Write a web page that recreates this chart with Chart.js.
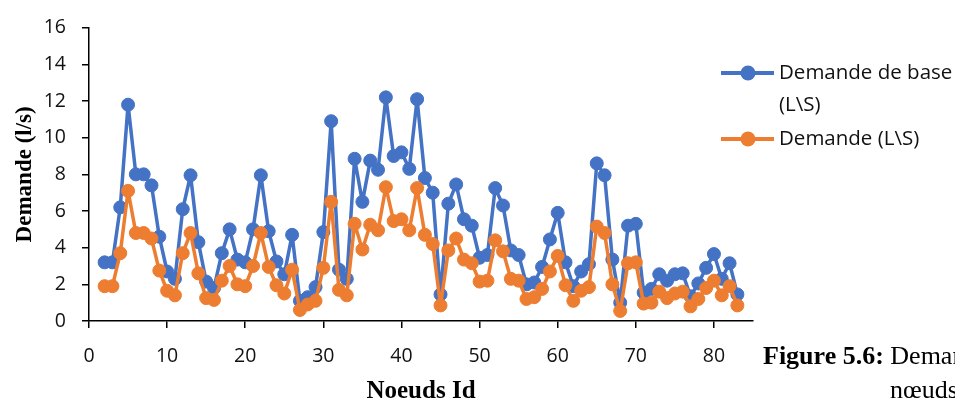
<!DOCTYPE html>
<html>
<head>
<meta charset="utf-8">
<script src="https://cdn.jsdelivr.net/npm/chart.js@4.4.1/dist/chart.umd.min.js"></script>
<style>
  html, body { margin: 0; padding: 0; background: #fff; overflow: hidden; }
  #wrap { position: relative; width: 955px; height: 403px; }
</style>
</head>
<body>
<div id="wrap"><canvas id="c" width="955" height="403"></canvas></div>
<script>
// Node identifiers along the x axis
const nodeIds = [2, 3, 4, 5, 6, 7, 8, 9, 10, 11, 12, 13, 14, 15, 16, 17, 18, 19, 20, 21,
  22, 23, 24, 25, 26, 27, 28, 29, 30, 31, 32, 33, 34, 35, 36, 37, 38, 39, 40, 41,
  42, 43, 44, 45, 46, 47, 48, 49, 50, 51, 52, 53, 54, 55, 56, 57, 58, 59, 60, 61,
  62, 63, 64, 65, 66, 67, 68, 69, 70, 71, 72, 73, 74, 75, 76, 77, 78, 79, 80, 81,
  82, 83];

// Base demand per node (l/s)
const baseDemand = [3.2, 3.2, 6.2, 11.8, 8.0, 8.0, 7.4, 4.6, 2.7, 2.3, 6.1, 7.95, 4.3, 2.15,
  1.8, 3.7, 5.0, 3.35, 3.2, 5.0, 7.95, 4.9, 3.25, 2.55, 4.7, 1.1, 1.3, 1.85, 4.85, 10.9,
  2.8, 2.3, 8.85, 6.5, 8.75, 8.25, 12.2, 9.0, 9.2, 8.3, 12.1, 7.8, 7.0, 1.45, 6.4, 7.45,
  5.55, 5.2, 3.45, 3.6, 7.25, 6.3, 3.85, 3.6, 2.0, 2.1, 2.95, 4.45, 5.9, 3.2, 1.9, 2.7,
  3.1, 8.6, 7.95, 3.35, 1.0, 5.2, 5.3, 1.55, 1.75, 2.55, 2.2, 2.55, 2.6, 1.35, 2.05, 2.9,
  3.65, 2.3, 3.15, 1.45];

// Demand per node (l/s)
const demand = [1.9, 1.9, 3.7, 7.1, 4.8, 4.8, 4.5, 2.75, 1.65, 1.4, 3.7, 4.8, 2.6, 1.25,
  1.15, 2.2, 3.0, 2.0, 1.9, 3.0, 4.8, 2.95, 1.95, 1.5, 2.8, 0.6, 0.9, 1.1, 2.9, 6.5,
  1.7, 1.4, 5.3, 3.9, 5.25, 4.95, 7.3, 5.45, 5.55, 4.95, 7.25, 4.7, 4.2, 0.85, 3.85, 4.5,
  3.35, 3.15, 2.15, 2.2, 4.4, 3.8, 2.3, 2.2, 1.2, 1.3, 1.75, 2.7, 3.55, 1.95, 1.1, 1.65,
  1.85, 5.15, 4.8, 2.0, 0.55, 3.15, 3.2, 0.95, 1.0, 1.6, 1.25, 1.5, 1.6, 0.8, 1.2, 1.8,
  2.2, 1.4, 1.9, 0.85];

// Axis ticks
const xTicks = [0, 10, 20, 30, 40, 50, 60, 70, 80];
const yTicks = [0, 2, 4, 6, 8, 10, 12, 14, 16];

// Legend entries (wrapped) and captions
const seriesLabels = [['Demande de base', '(L\\S)'], ['Demande (L\\S)']];
const xTitle = 'Noeuds Id';
const yTitle = 'Demande (l/s)';
const captionBold = 'Figure 5.6:';
const captionRest = ' Demande';
const captionLine2 = 'nœuds';

const BLUE = '#4472C4';
const ORANGE = '#ED7D31';
const tickFont = { family: '"Open Sans", sans-serif', size: 19.5 };
const serif = '"Liberation Serif", "Times New Roman", serif';

function toPoints(ys) {
  return nodeIds.map((id, i) => ({ x: id, y: ys[i] }));
}

// Legend drawn at the right of the plot, with wrapped label text
const sideLegend = {
  id: 'sideLegend',
  afterDraw(chart) {
    const ctx = chart.ctx;
    const rows = [73, 139];
    ctx.save();
    chart.data.datasets.forEach((ds, i) => {
      const y = rows[i];
      ctx.strokeStyle = ds.borderColor;
      ctx.lineWidth = 4;
      ctx.beginPath();
      ctx.moveTo(721, y);
      ctx.lineTo(774, y);
      ctx.stroke();
      ctx.fillStyle = ds.pointBackgroundColor;
      ctx.beginPath();
      ctx.arc(748, y, 7.5, 0, Math.PI * 2);
      ctx.fill();
      ctx.fillStyle = '#111';
      ctx.font = '20.5px "Open Sans", sans-serif';
      ctx.textAlign = 'left';
      ctx.textBaseline = 'middle';
      seriesLabels[i].forEach((line, k) => {
        ctx.fillText(line, 779, y + k * 32);
      });
    });
    // Figure caption
    ctx.fillStyle = '#000';
    ctx.textBaseline = 'alphabetic';
    ctx.font = 'bold 26px ' + serif;
    ctx.fillText(captionBold, 763, 364);
    const w = ctx.measureText(captionBold).width;
    ctx.font = '26px ' + serif;
    ctx.fillText(captionRest, 763 + w, 364);
    ctx.fillText(captionLine2, 890, 398);
    ctx.restore();
  }
};

new Chart(document.getElementById('c'), {
  type: 'line',
  data: {
    datasets: [
      {
        label: seriesLabels[0].join(' '),
        data: toPoints(baseDemand),
        borderColor: BLUE,
        backgroundColor: BLUE,
        pointBackgroundColor: BLUE,
        pointBorderColor: BLUE,
        borderWidth: 3.5,
        borderJoinStyle: 'round',
        pointRadius: 6.5,
        pointBorderWidth: 1,
        tension: 0,
        order: 2
      },
      {
        label: seriesLabels[1].join(' '),
        data: toPoints(demand),
        borderColor: ORANGE,
        backgroundColor: ORANGE,
        pointBackgroundColor: ORANGE,
        pointBorderColor: ORANGE,
        borderWidth: 3.5,
        borderJoinStyle: 'round',
        pointRadius: 6.5,
        pointBorderWidth: 1,
        tension: 0,
        order: 1
      }
    ]
  },
  options: {
    responsive: false,
    devicePixelRatio: 1,
    animation: false,
    layout: { padding: { top: 21, right: 202, left: 0, bottom: 0 } },
    plugins: {
      legend: { display: false },
      tooltip: { enabled: false }
    },
    scales: {
      x: {
        type: 'linear',
        min: 0,
        max: 85,
        afterBuildTicks: (s) => { s.ticks = xTicks.map(v => ({ value: v })); },
        afterFit: (s) => { s.height = 82; },
        ticks: { font: tickFont, color: '#111', padding: 17, maxRotation: 0, autoSkip: false },
        grid: { drawOnChartArea: false, drawTicks: true, tickLength: 7, color: '#000', lineWidth: 1.5 },
        border: { color: '#000', width: 1.5 },
        title: { display: true, text: xTitle, font: { family: serif, size: 25, weight: 'bold', lineHeight: 0.9 }, color: '#000', padding: { top: 0, bottom: 0 } }
      },
      y: {
        type: 'linear',
        min: 0,
        max: 16,
        afterBuildTicks: (s) => { s.ticks = yTicks.map(v => ({ value: v })); },
        afterFit: (s) => { s.width = 89; },
        ticks: { font: tickFont, color: '#111', padding: 16 },
        grid: { drawOnChartArea: false, drawTicks: true, tickLength: 7, color: '#000', lineWidth: 1.5 },
        border: { color: '#000', width: 1.5 },
        title: { display: true, text: yTitle, font: { family: serif, size: 23, weight: 'bold' }, color: '#000', padding: { top: 11, bottom: 0 } }
      }
    }
  },
  plugins: [sideLegend]
});
</script>
</body>
</html>
